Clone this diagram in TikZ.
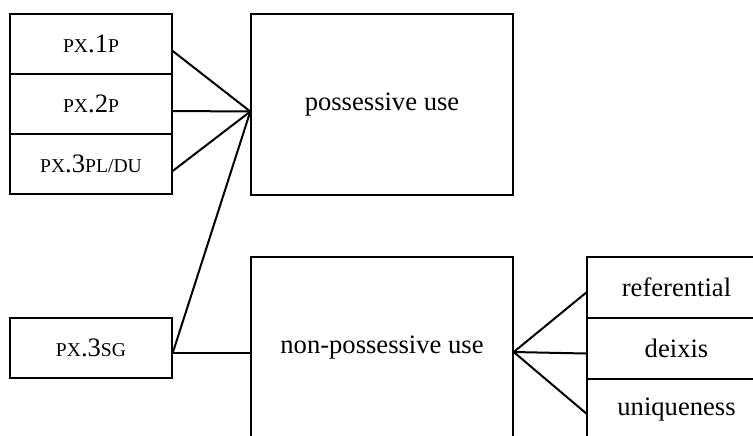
\documentclass[tikz,border=0pt]{standalone}
\usepackage{fontspec}
\setmainfont{Liberation Serif}
% fake small capitals for the glosses
\newcommand{\smc}[1]{{\fontsize{9.8}{12}\selectfont #1}}
\begin{document}
\begin{tikzpicture}[x=0.5pt,y=-0.5pt,
    box/.style={draw, line width=0.7pt, inner sep=0pt, font=\fontsize{13.3}{16}\selectfont},
    gloss/.style={box, minimum width=81pt, minimum height=30pt},
    use/.style={box, minimum width=131pt, minimum height=90.5pt},
    sense/.style={box, minimum width=89.5pt, minimum height=30.5pt},
    link/.style={line width=1pt}]
    \useasboundingbox (0,0) rectangle (753,435);
    \clip (0,0) rectangle (753,435);

    % glosses
    \node[gloss] (px1) at (91,44) {\smc{PX}.1\smc{P}};
    \node[gloss] (px2) at (91,104) {\smc{PX}.2\smc{P}};
    \node[gloss] (px3) at (91,164) {\smc{PX}.3\smc{PL/DU}};
    \node[gloss] (sg) at (91,348) {\smc{PX}.3\smc{SG}};

    % uses
    \node[use] (pos) at (382,104.5) {possessive use};
    \node[use] (npos) at (382,347.5) {non-possessive use};

    % senses
    \node[sense] (ref) at (676.5,287.5) {referential};
    \node[sense] (deix) at (676.5,348.5) {deixis};
    \node[sense] (uniq) at (676.5,409.5) {uniqueness};

    \coordinate (phub) at ([yshift=-3.5pt]pos.west);
    \coordinate (nhub) at ([yshift=-2.25pt]npos.east);
    \coordinate (sgout) at ([yshift=-2.5pt]sg.east);

    \draw[link] ([yshift=-3.5pt]px1.east) -- (phub);
    \draw[link] ([yshift=-3.5pt]px2.east) -- (phub);
    \draw[link] ([yshift=-3.5pt]px3.east) -- (phub);
    \draw[link] (sgout) -- (phub);
    \draw[link] (sgout) -- (sgout -| npos.west);

    \draw[link] (nhub) -- ([yshift=-2.5pt]ref.west);
    \draw[link] (nhub) -- ([yshift=-2.5pt]deix.west);
    \draw[link] (nhub) -- ([yshift=-2pt]uniq.west);
\end{tikzpicture}
\end{document}
